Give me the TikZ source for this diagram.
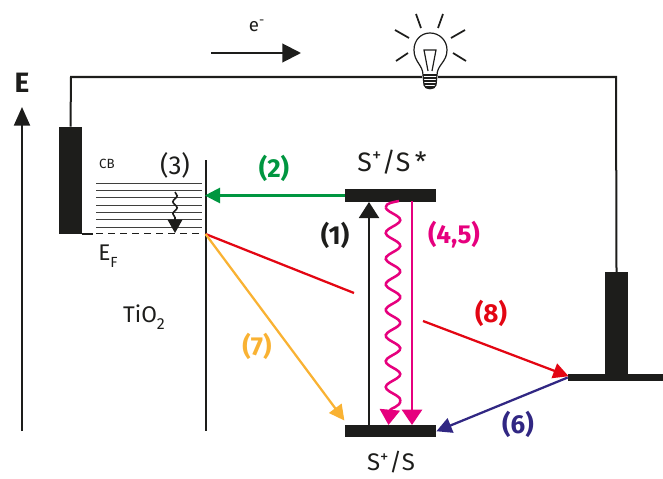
\documentclass[tikz,border=0pt]{standalone}
\usepackage{fontspec}
\setmainfont{Fira Sans}
\usetikzlibrary{arrows.meta,decorations.pathmorphing}
\definecolor{ink}{HTML}{1D1D1B}
\definecolor{cgreen}{HTML}{009640}
\definecolor{cmag}{HTML}{E6007E}
\definecolor{cred}{HTML}{E30613}
\definecolor{corange}{HTML}{F9B233}
\definecolor{cblue}{HTML}{312783}
\tikzset{
  bar/.style={fill=ink,draw=none,inner sep=0pt,minimum width=#1},
  wire/.style={draw=ink,line width=1.5pt},
  lvl/.style={draw=ink!85,line width=0.7pt},
  ray/.style={draw=ink,line width=1.3pt},
  lab/.style={font=\fontsize{19.5}{22}\selectfont,text=#1,inner sep=0pt},
  blab/.style={font=\fontsize{19.5}{22}\selectfont\bfseries,text=#1,inner sep=0pt},
  arr/.style={line width=1.7pt,draw=#1,-{Triangle[length=11.5pt,width=11.5pt,color=#1]},shorten >=-0.5pt},
  txt/.style={font=\fontsize{19}{22}\selectfont,text=ink,inner sep=0pt},
  magline/.style={line width=1.9pt,draw=cmag}
}
\begin{document}
\begin{tikzpicture}[x=0.75pt,y=-0.75pt]
\useasboundingbox (0,0) rectangle (663,478);
% electrodes
\node[bar=23*0.75pt,minimum height=80.5pt] (left) at (70.5,180.5) {};
\node[bar=23*0.75pt,minimum height=77pt] (right) at (616.5,323.5) {};
\node[bar=95*0.75pt,minimum height=5.5pt] (rfoot) at (615.5,377.5) {};
\coordinate (wl) at (71,77);
\coordinate (wr) at (616,77);
\draw[wire] (left.north) -- (wl) -- (422,77);
\draw[wire] (438,77) -- (wr) -- (right.north);
\draw[wire] (82,234) -- (93,234);
% levels
\foreach \y in {183,190,197,205,212,219,227} \draw[lvl] (96,\y) -- (202,\y);
\draw[line width=0.7pt,draw=ink,dash pattern=on 5pt off 4pt] (96,233.5) -- (203,233.5);
% TiO2 wall
\coordinate (wt) at (205.5,160);
\coordinate (wb) at (205.5,431);
\coordinate (inj) at (205.5,234);
\draw[wire] (wt) -- (wb);
% E axis
\coordinate (e0) at (22,431);
\coordinate (e1) at (22,107);
\draw[line width=1.5pt,draw=ink,-{Triangle[length=14pt,width=12pt,color=ink]}] (e0) -- (e1);
\node[font=\fontsize{21}{24}\selectfont\bfseries,text=ink,inner sep=0pt] (E) at (22,83) {E};
% dye levels
\node[bar=91*0.75pt,minimum height=9.7pt] (sstar) at (390.5,195.5) {};
\node[bar=91*0.75pt,minimum height=9.2pt] (sg) at (390.5,431) {};
% arrows
\draw[arr=cgreen] (sstar.west) -- (inj|-sstar.west);
\draw[line width=1.5pt,draw=ink,-{Triangle[length=12pt,width=15pt,color=ink]}] (369,425) -- (369,202);
\draw[magline,-{Triangle[length=11.5pt,width=15pt,color=cmag]}] (412,201) -- (412,425);
\draw[magline] (399,201) .. controls (394,202) and (385.7,203) .. (385.7,207.2);
\draw[magline] plot[smooth,samples=90,domain=207.2:400,variable=\t] ({393+7.3*cos(14.008*(\t-220))},\t);
\draw[magline,-{Triangle[length=11.5pt,width=15pt,color=cmag]}] (400.3,400) .. controls (401,407) and (390,408) .. (388.5,425);
\coordinate (r1) at (354,293);
\coordinate (r2) at (423,321);
\draw[line width=1.7pt,draw=cred] (inj) -- (r1);
\draw[arr=cred] (r2) -- (568,376);
\draw[arr=corange] (inj) -- (344,420);
\draw[arr=cblue] (rfoot.west) -- (437,431);
% e- arrow
\coordinate (ea) at (211,53);
\coordinate (eb) at (301,53);
\draw[line width=1.5pt,draw=ink,-{Triangle[length=14pt,width=14pt,color=ink]}] (ea) -- (eb);
% small thermal arrow
\draw[line width=1.2pt,draw=ink,decorate,decoration={snake,amplitude=1.6pt,segment length=9pt}] (175,192) -- (175,219);
\draw[line width=1pt,draw=ink,-{Triangle[length=10pt,width=11pt,color=ink]}] (175,219) -- (175,233);
% bulb
\draw[ray] (416,14) -- (421,28);
\draw[ray] (443,14) -- (438,28);
\draw[ray] (395,30) -- (409,38);
\draw[ray] (465,30) -- (451,38);
\draw[ray] (396,61) -- (408,53);
\draw[ray] (466,61) -- (453,53);
\draw[line width=0.9pt,draw=ink] (423,75) .. controls (423,65) and (414,62) .. (414,50)
  .. controls (414,40) and (421,33) .. (430,33)
  .. controls (439,33) and (447,40) .. (447,50)
  .. controls (447,62) and (437,65) .. (437,75);
\draw[line width=0.9pt,draw=ink] (428,71) -- (424,50) -- (436,50) -- (432,71);
\draw[line width=0.9pt,draw=ink] (423,75) -- (437,75) (423,78) -- (437,78) (423,81) -- (437,81) (424,84) -- (436,84) (425,87) -- (435,87);
\draw[line width=0.9pt,draw=ink] (423,75) -- (424,85) .. controls (425,90) and (435,90) .. (436,85) -- (437,75);
% labels
\node[inner sep=0pt,text=ink,font=\fontsize{14}{16}\selectfont] (electron) at (257,26) {e\textsuperscript{-}};
\node[inner sep=0pt,text=ink,font=\fontsize{10}{12}\selectfont] (cb) at (107,164) {CB};
\node[lab=ink] (l3) at (175,165) {(3)};
\node[blab=cgreen] (l2) at (274,168) {(2)};
\node[txt,font=\fontsize{20}{22}\selectfont] (sss) at (392,162) {S\textsuperscript{+}/S\,*};
\node[blab=ink] (l1) at (335,235) {(1)};
\node[blab=cmag] (l45) at (454,235) {(4,5)};
\node[txt,font=\fontsize{17}{20}\selectfont] (ef) at (108,256) {E\raisebox{-5pt}{\fontsize{11}{12}\selectfont F}};
\node[txt,font=\fontsize{17}{20}\selectfont] (tio) at (144,317) {TiO\raisebox{-5pt}{\fontsize{12}{12}\selectfont 2}};
\node[blab=corange] (l7) at (257,346) {(7)};
\node[blab=cred] (l8) at (491,313) {(8)};
\node[blab=cblue] (l6) at (518,424) {(6)};
\node[txt,font=\fontsize{18}{20}\selectfont] (ss) at (391,462) {S\textsuperscript{+}/S};
\end{tikzpicture}
\end{document}
